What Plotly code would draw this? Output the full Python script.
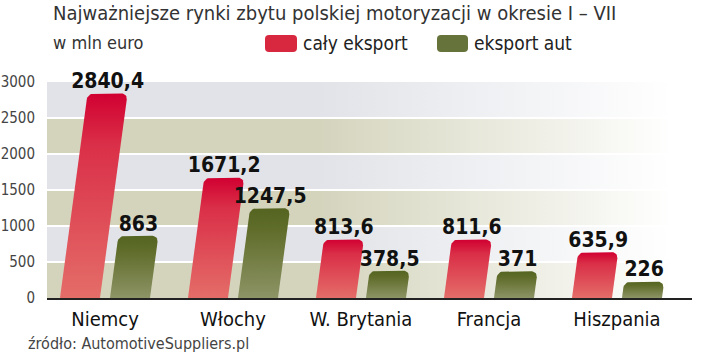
import math
import plotly.graph_objects as go

# ---- data ----
categories = ["Niemcy", "Włochy", "W. Brytania", "Francja", "Hiszpania"]
caly_eksport = [2840.4, 1671.2, 813.6, 811.6, 635.9]
eksport_aut = [863, 1247.5, 378.5, 371, 226]
labels_caly = ["2840,4", "1671,2", "813,6", "811,6", "635,9"]
labels_aut = ["863", "1247,5", "378,5", "371", "226"]
y_ticks = [0, 500, 1000, 1500, 2000, 2500, 3000]

title = "Najważniejsze rynki zbytu polskiej motoryzacji w okresie I – VII"
unit = "w mln euro"
source = "źródło: AutomotiveSuppliers.pl"

# ---- layout geometry ----
W, H = 720, 356
L, R, T, B = 47, 28, 82, 58
plot_w = W - L - R
plot_h = H - T - B
group_px = 128.0
x0 = -0.453
x1 = x0 + plot_w / group_px
y0, y1 = 0, 3000
px_per_x = plot_w / (x1 - x0)
px_per_y = plot_h / (y1 - y0)

bar_w_px = 40
offset_px = 25
slope = 0.135       # horizontal skew in px per px of height
radius_px = 6

FONT = "DejaVu Sans Condensed, Liberation Sans Narrow, sans-serif"


def bar_polygon(center, value):
    """Skewed bar with rounded top corners, built from data value."""
    h = value * px_per_y
    w = bar_w_px
    r = min(radius_px, h / 2)
    pts = [(-w / 2, 0), (w / 2, 0), (w / 2, h - r)]
    n = 8
    for i in range(1, n + 1):
        a = math.pi / 2 * i / n
        pts.append((w / 2 - r + r * math.cos(a), h - r + r * math.sin(a)))
    pts.append((-w / 2 + r, h))
    for i in range(1, n + 1):
        a = math.pi / 2 + math.pi / 2 * i / n
        pts.append((-w / 2 + r + r * math.cos(a), h - r + r * math.sin(a)))
    pts.append((-w / 2, 0))
    xs, ys = [], []
    for px, py in pts:
        px_sk = px + slope * py
        xs.append(center + px_sk / px_per_x)
        ys.append(py / px_per_y)
    return xs, ys


fig = go.Figure()

# background bands, fading to white on the right
band_colors = ["#d4d4bd", "#e1e3e8"]
for k in range(len(y_ticks) - 1):
    c = band_colors[k % 2]
    fig.add_trace(go.Scatter(
        x=[x0, x1, x1, x0, x0],
        y=[y_ticks[k], y_ticks[k], y_ticks[k + 1], y_ticks[k + 1], y_ticks[k]],
        mode="lines", line=dict(width=0), fill="toself",
        fillgradient=dict(type="horizontal",
                          colorscale=[[0, c], [0.42, c], [0.97, "#ffffff"], [1, "#ffffff"]]),
        hoverinfo="skip", showlegend=False))

# white grid lines
for t in y_ticks[1:-1]:
    fig.add_trace(go.Scatter(x=[x0, x1], y=[t, t], mode="lines",
                             line=dict(color="white", width=2),
                             hoverinfo="skip", showlegend=False))

red_scale = [[0, "#e46d68"], [0.75, "#da2f48"], [1, "#d10031"]]
green_scale = [[0, "#8d9466"], [0.75, "#606d2b"], [1, "#556421"]]

dx = offset_px / group_px
for i, cat in enumerate(categories):
    for val, lab, off, scale in [(caly_eksport[i], labels_caly[i], -dx, red_scale),
                                 (eksport_aut[i], labels_aut[i], dx, green_scale)]:
        cx = i + off
        xs, ys = bar_polygon(cx, val)
        fig.add_trace(go.Scatter(
            x=xs, y=ys, mode="lines", line=dict(width=0), fill="toself",
            fillgradient=dict(type="vertical", colorscale=scale),
            hoverinfo="skip", showlegend=False))
        top_cx = cx + slope * val * px_per_y / px_per_x
        fig.add_trace(go.Scatter(
            x=[top_cx], y=[val], mode="text", text=[lab],
            textposition="top center", cliponaxis=False,
            textfont=dict(family=FONT, size=21, color="#111111", weight="bold"),
            hoverinfo="skip", showlegend=False))


def px_x(p):
    return (p - L) / plot_w


def px_y(p):
    return (H - B - p) / plot_h


annotations = [
    dict(text=title, x=px_x(51), y=px_y(13), xref="paper", yref="paper",
         xanchor="left", yanchor="middle", showarrow=False,
         font=dict(family=FONT, size=20, color="#333333")),
    dict(text=unit, x=px_x(51), y=px_y(42), xref="paper", yref="paper",
         xanchor="left", yanchor="middle", showarrow=False,
         font=dict(family=FONT, size=18, color="#333333")),
    dict(text="cały eksport", x=px_x(301), y=px_y(43), xref="paper", yref="paper",
         xanchor="left", yanchor="middle", showarrow=False,
         font=dict(family=FONT, size=19, color="#222222")),
    dict(text="eksport aut", x=px_x(472), y=px_y(43), xref="paper", yref="paper",
         xanchor="left", yanchor="middle", showarrow=False,
         font=dict(family=FONT, size=19, color="#222222")),
    dict(text=source, x=px_x(26), y=px_y(343), xref="paper", yref="paper",
         xanchor="left", yanchor="middle", showarrow=False,
         font=dict(family=FONT, size=16, color="#444444")),
]


def rounded_rect_path(xa, ya, xb, yb, r):
    def P(x, y):
        return f"{px_x(x):.5f},{px_y(y):.5f}"
    return (f"M {P(xa + r, ya)} L {P(xb - r, ya)} Q {P(xb, ya)} {P(xb, ya + r)} "
            f"L {P(xb, yb - r)} Q {P(xb, yb)} {P(xb - r, yb)} L {P(xa + r, yb)} "
            f"Q {P(xa, yb)} {P(xa, yb - r)} L {P(xa, ya + r)} Q {P(xa, ya)} {P(xa + r, ya)} Z")


shapes = [
    dict(type="path", xref="paper", yref="paper",
         path=rounded_rect_path(265, 35, 297, 52, 4),
         fillcolor="#d8283f", line=dict(width=0)),
    dict(type="path", xref="paper", yref="paper",
         path=rounded_rect_path(437, 35, 468, 52, 4),
         fillcolor="#66733a", line=dict(width=0)),
]

fig.update_layout(
    width=W, height=H,
    margin=dict(l=L, r=R, t=T, b=B, pad=0, autoexpand=False),
    paper_bgcolor="white", plot_bgcolor="white",
    showlegend=False, hovermode=False,
    annotations=annotations, shapes=shapes,
    xaxis=dict(range=[x0, x1], showgrid=False, zeroline=False, automargin=False,
               tickvals=list(range(len(categories))), ticktext=categories,
               ticks="", showline=True, linecolor="#222222", linewidth=2,
               tickfont=dict(family=FONT, size=20, color="#111111"),
               ticklabelstandoff=2, fixedrange=True),
    yaxis=dict(range=[y0, y1], showgrid=False, zeroline=False, automargin=False,
               tickvals=y_ticks, ticks="", showline=False,
               tickfont=dict(family=FONT, size=15, color="#444444"),
               ticklabelstandoff=11, fixedrange=True),
    font=dict(family=FONT),
)

fig.write_html("out.html",
               config={"displayModeBar": False, "staticPlot": True},
               post_script="document.body.style.margin='0';document.body.style.padding='0';")
